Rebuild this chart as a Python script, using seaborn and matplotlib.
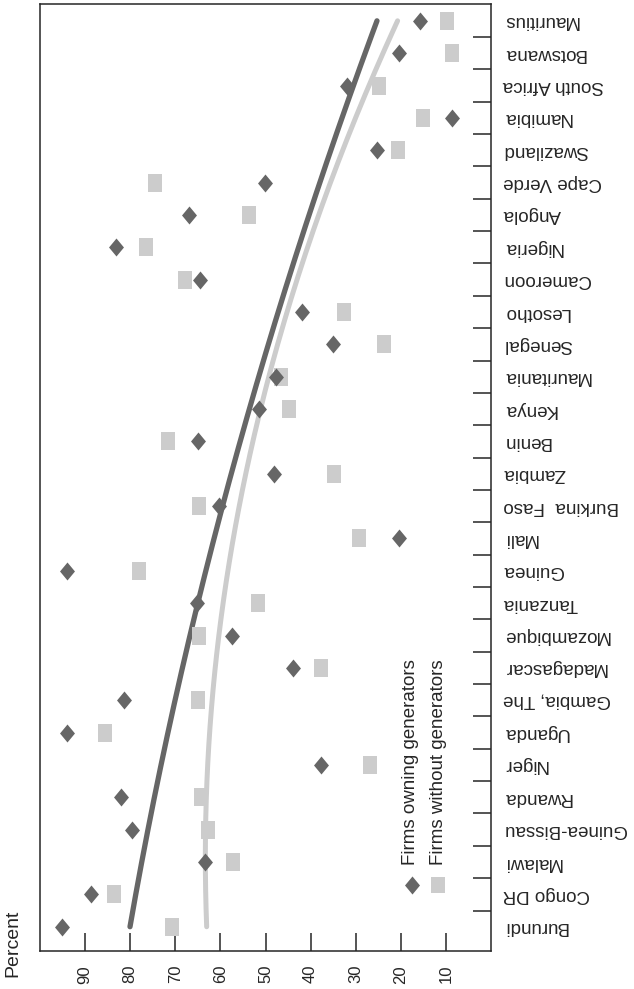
import numpy as np
import pandas as pd
import matplotlib
matplotlib.use("Agg")
import matplotlib.pyplot as plt
from matplotlib.path import Path
import seaborn as sns

# Countries, bottom to top
countries = ["Burundi", "Congo DR", "Malawi", "Guinea-Bissau", "Rwanda", "Niger",
             "Uganda", "Gambia, The", "Madagascar", "Mozambique", "Tanzania", "Guinea",
             "Mali", "Burkina  Faso", "Zambia", "Benin", "Kenya", "Mauritania",
             "Senegal", "Lesotho", "Cameroon", "Nigeria", "Angola", "Cape Verde",
             "Swaziland", "Namibia", "South Africa", "Botswana", "Mauritius"]

# Percent of firms, by generator ownership
owning_generators = [95.2, 88.8, 63.5, 79.7, 82.1, 37.6, 94.1, 81.3, 43.9, 57.4,
                     65.2, 94.1, 20.3, 60.2, 48.2, 64.9, 51.5, 47.6, 35.1, 42.0,
                     64.5, 83.1, 66.9, 50.2, 25.2, 8.6, 32.0, 20.3, 15.7]
without_generators = [70.8, 83.5, 57.1, 62.8, 64.2, 26.8, 85.5, 64.9, 37.8, 64.8,
                      51.6, 78.0, 29.3, 64.8, 34.9, 71.6, 44.8, 46.5, 23.8, 32.7,
                      67.8, 76.5, 53.6, 74.4, 20.7, 15.0, 24.9, 8.6, 9.8]

value_ticks = [10, 20, 30, 40, 50, 60, 70, 80, 90]
series_labels = ["Firms owning generators", "Firms without generators"]

DARK = "#666666"
LIGHT = "#cccccc"
FRAME = "#262626"

sns.set_style("white")
plt.rcParams["font.family"] = ["Liberation Sans", "DejaVu Sans"]

pos = np.arange(len(countries))
df = pd.DataFrame({"pos": pos, "owning": owning_generators, "without": without_generators})

diamond = Path([(0, -1), (0.83, 0), (0, 1), (-0.83, 0), (0, -1)],
               [Path.MOVETO, Path.LINETO, Path.LINETO, Path.LINETO, Path.CLOSEPOLY])
rect = Path([(-0.84, -1), (0.84, -1), (0.84, 1), (-0.84, 1), (-0.84, -1)],
            [Path.MOVETO, Path.LINETO, Path.LINETO, Path.LINETO, Path.CLOSEPOLY])

fig = plt.figure(figsize=(6.34, 9.89), dpi=100)
ax = fig.add_axes([40 / 634, 38 / 989, 451 / 634, 947 / 989])

# Quadratic trend of each series across the country order
grid = np.linspace(0, len(countries) - 1, 200)
for col, color, lw in [("without", LIGHT, 3.6), ("owning", DARK, 3.8)]:
    coef = np.polyfit(df["pos"], df[col], 2)
    sns.lineplot(x=np.polyval(coef, grid), y=grid, orient="y", sort=False,
                 estimator=None, color=color, linewidth=lw, ax=ax, zorder=2)

sns.scatterplot(data=df, x="without", y="pos", marker=rect, s=150, color=LIGHT,
                linewidth=0, ax=ax, zorder=3)
sns.scatterplot(data=df, x="owning", y="pos", marker=diamond, s=168, color=DARK,
                linewidth=0, ax=ax, zorder=4)

ax.set_xlim(100, 0)
ax.set_ylim(-0.75, 28.52)
ax.set_xlabel("")
ax.set_ylabel("")

# Value axis along the bottom
ax.set_xticks(value_ticks)
ax.set_xticklabels([str(v) for v in value_ticks], rotation=90, fontsize=12)
ax.tick_params(axis="x", direction="in", length=13, width=1.1, color=FRAME,
               pad=10, bottom=True, top=False)

# Country axis along the right, separators between categories
ax.yaxis.tick_right()
ax.set_yticks(pos)
ax.set_yticklabels(countries, fontsize=13.5)
ax.set_yticks(pos[:-1] + 0.5, minor=True)
ax.tick_params(axis="y", which="major", length=0, pad=8.6, right=True, left=False)
ax.tick_params(axis="y", which="minor", direction="in", length=13, width=1.1,
               color=FRAME, right=True, left=False)
for lbl in ax.get_yticklabels():
    lbl.set_rotation(180)
    lbl.set_ha("left")
    lbl.set_va("center")

for s in ax.spines.values():
    s.set_visible(True)
    s.set_color(FRAME)
    s.set_linewidth(1.1)

# Legend keys and labels
ax.plot([0.8242], [0.0697], marker=diamond, markersize=13, color=DARK,
        linestyle="none", transform=ax.transAxes, markeredgewidth=0)
ax.plot([0.8825], [0.0697], marker=rect, markersize=12.2, color=LIGHT,
        linestyle="none", transform=ax.transAxes, markeredgewidth=0)
ax.text(0.8215, 0.0908, series_labels[0], rotation=90, rotation_mode="anchor",
        ha="left", va="center", fontsize=13.5, transform=ax.transAxes)
ax.text(0.8847, 0.0908, series_labels[1], rotation=90, rotation_mode="anchor",
        ha="left", va="center", fontsize=13.5, transform=ax.transAxes)

fig.text(13 / 634, 1 - 943 / 989, "Percent", rotation=90, ha="center",
         va="center", fontsize=14)

fig.savefig("out.png", dpi=100)
